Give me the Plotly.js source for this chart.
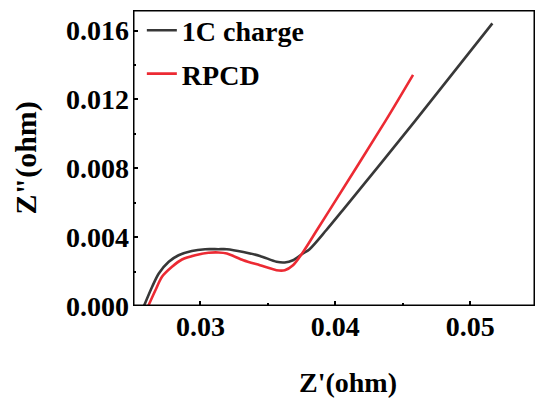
<!DOCTYPE html>
<html>
<head>
<meta charset="utf-8">
<script src="https://cdn.plot.ly/plotly-3.0.1.min.js"></script>
<style>html,body{margin:0;padding:0;background:#fff;}#chart{width:538px;height:399px;}.modebar-container,.modebar{display:none !important;}</style>
</head>
<body>
<div id="chart"></div>
<script>
// 1C charge series
const chargeX = [0.02581, 0.02642, 0.02691, 0.02765, 0.02838, 0.02936, 0.03035, 0.03132, 0.03196, 0.03318, 0.03441, 0.03564, 0.03625, 0.03686, 0.03760, 0.03809, 0.03932, 0.04054, 0.04593, 0.05164];
const chargeY = [0.00000, 0.00112, 0.00189, 0.00257, 0.00295, 0.00320, 0.00330, 0.00330, 0.00330, 0.00314, 0.00291, 0.00257, 0.00253, 0.00266, 0.00305, 0.00330, 0.00440, 0.00556, 0.01077, 0.01642];
// RPCD series
const rpcdX = [0.02613, 0.02667, 0.02715, 0.02789, 0.02863, 0.02961, 0.03059, 0.03132, 0.03196, 0.03318, 0.03441, 0.03564, 0.03625, 0.03686, 0.03760, 0.03858, 0.03956, 0.04373, 0.04576];
const rpcdY = [0.00000, 0.00093, 0.00170, 0.00228, 0.00270, 0.00295, 0.00309, 0.00311, 0.00305, 0.00266, 0.00237, 0.00208, 0.00208, 0.00237, 0.00313, 0.00434, 0.00556, 0.01077, 0.01343];
const seriesNames = ['1C charge', 'RPCD'];
const xTickVals = [0.03, 0.04, 0.05];
const yTickVals = [0.000, 0.004, 0.008, 0.012, 0.016];
const xRange = [0.025, 0.0548];
const yRange = [0, 0.0172];

const fontFam = '"Liberation Serif", "Times New Roman", serif';
const INK = 'black';

// plot frame built from the axis ranges, drawn through the axes' own scales
const frameTrace = {
  x: [xRange[0], xRange[1], xRange[1], xRange[0], xRange[0]],
  y: [yRange[0], yRange[0], yRange[1], yRange[1], yRange[0]],
  mode: 'lines', showlegend: false, hoverinfo: 'skip', cliponaxis: false,
  line: {color: INK, width: 3}
};

const traces = [
  {x: chargeX, y: chargeY, name: seriesNames[0], mode: 'lines', legendgroup: 'a', cliponaxis: false,
   line: {color: '#383838', width: 2.6, shape: 'spline', smoothing: 0.8}},
  {x: rpcdX, y: rpcdY, name: seriesNames[1], mode: 'lines', legendgroup: 'b', cliponaxis: false,
   line: {color: '#ec2a33', width: 2.6, shape: 'spline', smoothing: 0.8}},
  frameTrace
];

const axisCommon = {
  showgrid: false, zeroline: false, showline: false,
  ticks: 'inside', ticklen: 5, tickwidth: 2, tickcolor: INK,
  tickfont: {family: fontFam, size: 28, color: INK, weight: 'bold'}
};

const layout = {
  width: 538, height: 399,
  margin: {l: 133, r: 3, t: 10, b: 93},
  paper_bgcolor: 'white', plot_bgcolor: 'white',
  font: {family: fontFam, color: INK},
  showlegend: true,
  legend: {x: 0.022, y: 1.015, xanchor: 'left', yanchor: 'top', bgcolor: 'rgba(0,0,0,0)',
           traceorder: 'grouped', tracegroupgap: 4,
           font: {family: fontFam, size: 28, color: INK, weight: 'bold'}},
  xaxis: Object.assign({}, axisCommon, {
    range: xRange, tickvals: xTickVals, tickformat: '.2f', ticklabelstandoff: 1,
    minor: {dtick: 0.005, tick0: 0.025, ticks: 'inside', ticklen: 3, tickwidth: 2, tickcolor: INK}
  }),
  yaxis: Object.assign({}, axisCommon, {
    range: yRange, tickvals: yTickVals, tickformat: '.3f', ticklabelstandoff: 3,
    minor: {dtick: 0.002, tick0: 0, ticks: 'inside', ticklen: 3, tickwidth: 2, tickcolor: INK}
  }),
  annotations: [
    {text: "Z'(ohm)", xref: 'paper', yref: 'paper', x: 0.536, y: -0.26, xanchor: 'center', yanchor: 'middle',
     showarrow: false, font: {family: fontFam, size: 28, color: INK, weight: 'bold'}},
    {text: 'Z"(ohm)', xref: 'paper', yref: 'paper', x: -0.265, y: 0.5, xanchor: 'center', yanchor: 'middle',
     textangle: -90, showarrow: false, font: {family: fontFam, size: 30, color: INK, weight: 'bold'}}
  ]
};

Plotly.newPlot('chart', traces, layout);
</script>
</body>
</html>
